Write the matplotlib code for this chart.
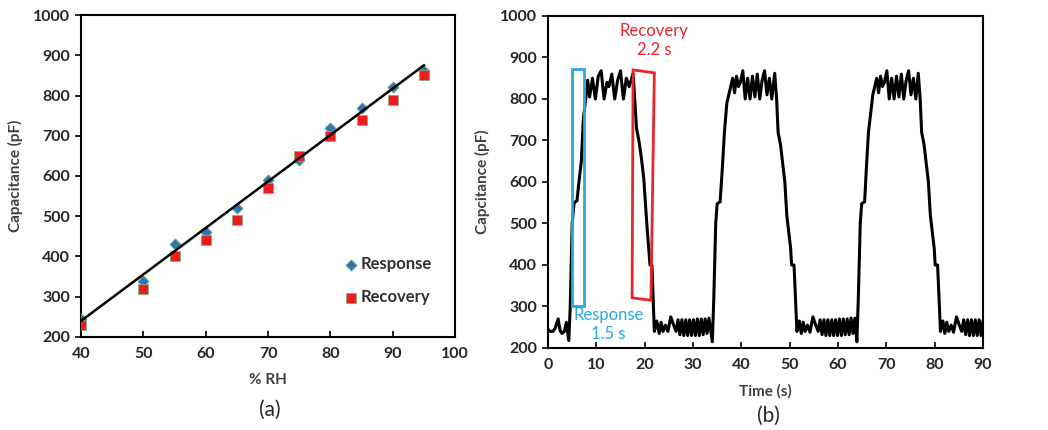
import matplotlib.pyplot as plt
from matplotlib.patches import Polygon

plt.rcParams['font.family'] = ['Lato', 'DejaVu Sans']

# --- (a) kalibracja ---
rh = [40, 50, 55, 60, 65, 70, 75, 80, 85, 90, 95]
response = [245, 340, 430, 460, 520, 590, 640, 720, 770, 820, 860]
recovery = [230, 320, 400, 440, 490, 570, 650, 700, 740, 790, 850]
fit_x = [40, 95]
fit_y = [240, 875]

# --- (b) przebieg czasowy ---
time_s = [0, 0.5, 1.0, 1.5, 2.1, 2.5, 2.9, 3.4, 3.8, 4.3, 4.6, 5.0, 5.4, 6.0, 6.4, 6.9, 7.3, 7.8,
          8.2, 8.6, 9.2, 9.8, 10.4, 11.0, 11.6, 12.2, 12.6, 13.2, 13.8, 14.4, 15.0, 15.6, 16.2, 16.8, 17.6,
          18.0, 18.3, 18.8, 19.3, 19.8, 20.2, 20.5, 20.9, 21.1, 21.5, 21.8, 22.0,
          22.5, 23.0, 23.4, 23.8, 24.3, 24.8, 25.4, 26.0, 26.5, 26.9, 27.3, 27.7, 28.1, 28.5, 28.9,
          29.3, 29.7, 30.1, 30.5, 30.9, 31.3, 31.7, 32.1, 32.5, 32.9, 33.3, 33.7, 34.0,
          34.3, 34.7, 35.0, 35.6, 36.0, 36.5, 37.0, 37.4, 37.8,
          38.2, 38.6, 39.0, 39.4, 39.8, 40.3, 40.8, 41.3, 41.8, 42.3, 42.8, 43.3, 43.8, 44.3, 44.8,
          45.3, 45.8, 46.3, 46.9,
          47.3, 47.6, 48.1, 48.6, 49.0, 49.4, 49.8, 50.2, 50.4, 50.9, 51.2, 51.5,
          52.0, 52.4, 52.8, 53.2, 53.7, 54.2, 54.8, 55.4, 55.9, 56.3, 56.7, 57.1, 57.5, 57.9, 58.3,
          58.7, 59.1, 59.5, 59.9, 60.3, 60.7, 61.1, 61.5, 61.9, 62.3, 62.7, 63.1, 63.5, 63.9,
          64.2, 64.6, 64.9, 65.5, 65.9, 66.3, 66.8, 67.2, 67.6,
          68.0, 68.4, 68.8, 69.2, 69.6, 70.1, 70.6, 71.1, 71.6, 72.1, 72.6, 73.1, 73.6, 74.1, 74.6,
          75.1, 75.6, 76.1, 76.6,
          77.0, 77.3, 77.8, 78.3, 78.7, 79.1, 79.5, 79.9, 80.1, 80.6, 80.9, 81.2,
          81.7, 82.1, 82.5, 82.9, 83.4, 83.9, 84.5, 85.1, 85.6, 86.0, 86.4, 86.8, 87.2, 87.6, 88.0,
          88.4, 88.8, 89.2, 89.6, 90.0]
cap_pf = [245, 240, 240, 248, 270, 242, 235, 240, 262, 218, 300, 500, 550, 555, 600, 650, 750, 800,
          845, 805, 850, 800, 855, 868, 800, 840, 830, 860, 800, 845, 868, 800, 850, 830, 862,
          790, 730, 700, 660, 610, 540, 490, 430, 400, 400, 300, 240,
          265, 235, 262, 240, 255, 240, 275, 255, 240, 268, 232, 268, 230, 268, 230,
          268, 230, 268, 230, 270, 230, 270, 232, 270, 235, 272, 240, 215,
          320, 500, 548, 552, 620, 720, 790, 810, 830,
          850, 815, 855, 830, 840, 868, 800, 850, 800, 855, 805, 860, 800, 845, 868,
          810, 850, 800, 862,
          800, 720, 690, 640, 600, 520, 480, 440, 400, 400, 320, 240,
          265, 235, 262, 240, 255, 238, 275, 255, 240, 268, 232, 268, 230, 268, 230,
          268, 230, 268, 230, 270, 230, 270, 232, 270, 232, 272, 235, 272, 215,
          320, 500, 548, 552, 640, 720, 770, 810, 830,
          850, 815, 855, 830, 840, 868, 800, 850, 800, 855, 805, 860, 800, 845, 868,
          810, 850, 800, 862,
          800, 720, 690, 640, 600, 520, 480, 440, 400, 400, 320, 240,
          265, 235, 262, 240, 255, 238, 275, 255, 240, 268, 232, 268, 230, 268, 230,
          268, 230, 268, 230, 265]

# ramki odpowiedzi / powrotu (czas, pojemnosc)
resp_box = [(5.0, 873), (7.5, 873), (7.5, 300), (5.0, 300)]
rec_box = [(17.6, 870), (22.0, 863), (21.3, 315), (17.4, 321)]

BLUE = "#29A9E0"
RED = "#E8262A"

fig = plt.figure(figsize=(10.48, 4.30), dpi=100)
ax1 = fig.add_axes([0.0773, 0.2163, 0.3569, 0.7488])
ax2 = fig.add_axes([0.5229, 0.1907, 0.4151, 0.7721])

# --- wykres (a) ---
ax1.scatter(rh, response, marker="D", s=32, color="#2E75B6", edgecolors="#6FB06A",
            linewidths=0.6, label="Response", zorder=3)
ax1.scatter(rh, recovery, marker="s", s=60, color="#EE1C1C", edgecolors="#8FA88A",
            linewidths=0.6, label="Recovery", zorder=3)
ax1.plot(fit_x, fit_y, color="black", linewidth=1.8, zorder=4)
ax1.set_xlim(40, 100)
ax1.set_ylim(200, 1000)
ax1.set_xticks(range(40, 101, 10))
ax1.set_yticks(range(200, 1001, 100))
ax1.set_xlabel("% RH", fontsize=11, fontweight="bold", color="#404040", labelpad=9)
ax1.set_ylabel("Capacitance (pF)", fontsize=11, fontweight="bold", color="#404040", labelpad=7)
leg = ax1.legend(loc="center left", bbox_to_anchor=(0.66, 0.175), frameon=False,
                 fontsize=12, handletextpad=0.05, labelspacing=1.0, markerscale=1.0,
                 handlelength=1.0)
for t in leg.get_texts():
    t.set_fontweight("bold")
    t.set_color("#303030")

# --- wykres (b) ---
ax2.plot(time_s, cap_pf, color="black", linewidth=2.2, zorder=3)
ax2.add_patch(Polygon(resp_box, closed=True, fill=False, edgecolor=BLUE, linewidth=2, zorder=4))
ax2.add_patch(Polygon(rec_box, closed=True, fill=False, edgecolor=RED, linewidth=2, zorder=4))
ax2.text(22.0, 941, "Recovery\n2.2 s", color=RED, fontsize=12, ha="center", va="center",
         linespacing=1.2)
ax2.text(12.5, 256, "Response\n1.5 s", color=BLUE, fontsize=12, ha="center", va="center",
         linespacing=1.2)
ax2.set_xlim(0, 90)
ax2.set_ylim(200, 1000)
ax2.set_xticks(range(0, 91, 10))
ax2.set_yticks(range(200, 1001, 100))
ax2.set_xlabel("Time (s)", fontsize=11, fontweight="bold", color="#404040", labelpad=9)
ax2.set_ylabel("Capcitance (pF)", fontsize=11, fontweight="bold", color="#404040", labelpad=7)

for ax in (ax1, ax2):
    for sp in ax.spines.values():
        sp.set_linewidth(1.5)
    ax.tick_params(axis="x", direction="in", length=4, width=1.2, pad=7)
    ax.tick_params(axis="y", direction="out", length=4, width=1.2, pad=4)
    for lab in ax.get_xticklabels() + ax.get_yticklabels():
        lab.set_fontweight("bold")
        lab.set_fontsize(11.5)
        lab.set_color("#262626")

fig.text(270 / 1048, 1 - 410 / 430, "(a)", fontsize=15, ha="center", va="center", color="#262626")
fig.text(768 / 1048, 1 - 416 / 430, "(b)", fontsize=15, ha="center", va="center", color="#262626")

plt.savefig("out.png", dpi=100)
